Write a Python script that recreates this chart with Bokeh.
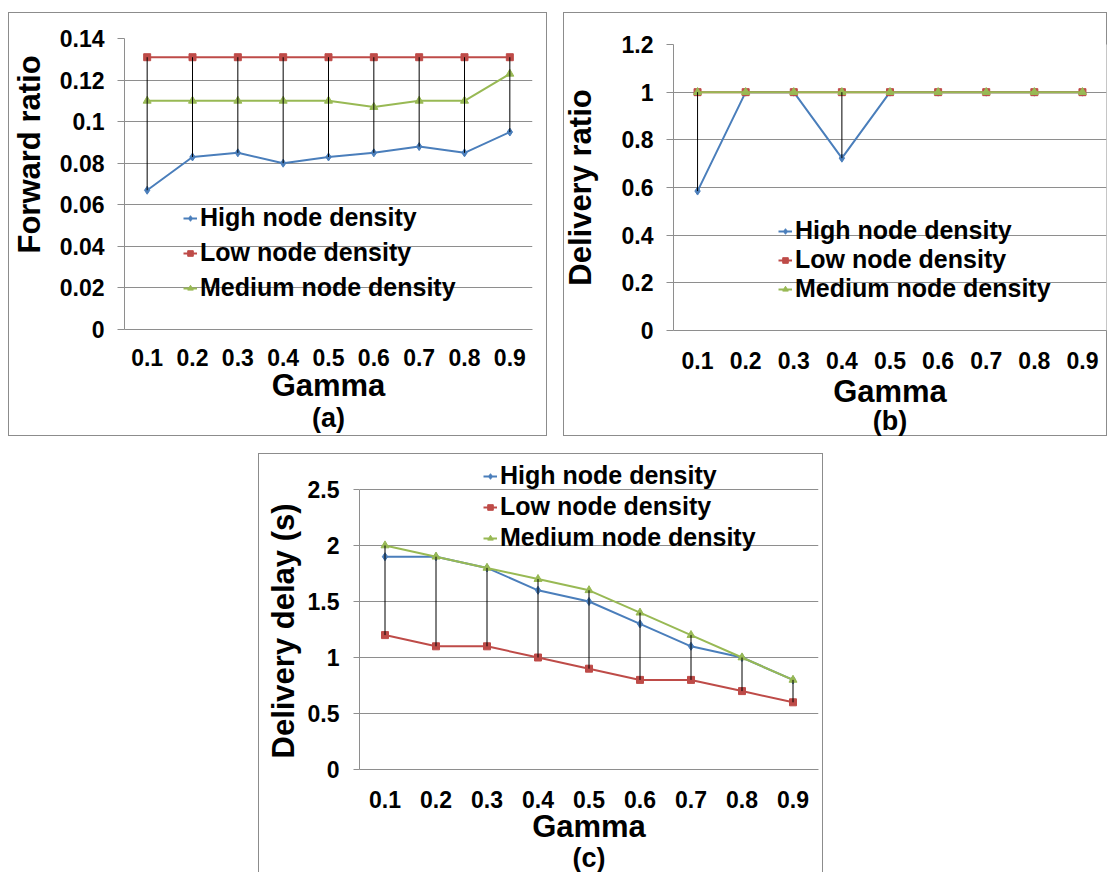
from bokeh.plotting import figure
from bokeh.models import (FactorRange, Range1d, FixedTicker, NumeralTickFormatter,
                          Legend, LegendItem, Title, Spacer, InlineStyleSheet)
from bokeh.layouts import column, row
from bokeh.embed import file_html
from bokeh.resources import INLINE

# ---------------- data ----------------
gamma = ["0.1", "0.2", "0.3", "0.4", "0.5", "0.6", "0.7", "0.8", "0.9"]
series_names = ["High node density", "Low node density", "Medium node density"]

# (a) Forward ratio
fwd_high = [0.067, 0.083, 0.085, 0.080, 0.083, 0.085, 0.088, 0.085, 0.095]
fwd_low = [0.131, 0.131, 0.131, 0.131, 0.131, 0.131, 0.131, 0.131, 0.131]
fwd_medium = [0.110, 0.110, 0.110, 0.110, 0.110, 0.107, 0.110, 0.110, 0.123]
fwd_ticks = [0, 0.02, 0.04, 0.06, 0.08, 0.1, 0.12, 0.14]

# (b) Delivery ratio
dr_high = [0.585, 1.0, 1.0, 0.723, 1.0, 1.0, 1.0, 1.0, 1.0]
dr_low = [1.0, 1.0, 1.0, 1.0, 1.0, 1.0, 1.0, 1.0, 1.0]
dr_medium = [1.0, 1.0, 1.0, 1.0, 1.0, 1.0, 1.0, 1.0, 1.0]
dr_ticks = [0, 0.2, 0.4, 0.6, 0.8, 1.0, 1.2]

# (c) Delivery delay (s)
dd_high = [1.9, 1.9, 1.8, 1.6, 1.5, 1.3, 1.1, 1.0, 0.8]
dd_low = [1.2, 1.1, 1.1, 1.0, 0.9, 0.8, 0.8, 0.7, 0.6]
dd_medium = [2.0, 1.9, 1.8, 1.7, 1.6, 1.4, 1.2, 1.0, 0.8]
dd_ticks = [0, 0.5, 1.0, 1.5, 2.0, 2.5]

# ---------------- style ----------------
FONT = "Liberation Sans"
BLUE = "#4a7ebb"
RED = "#be4b48"
GREEN = "#98b954"
GRID = "#8e8e8e"
BOX = "#8c8c8c"
colors = [BLUE, RED, GREEN]
markers = ["diamond", "square", "triangle"]
msizes = [8, 7, 8]

outline_css = InlineStyleSheet(css=":host { outline: 1px solid %s; }" % BOX)


def inset_css(left_gap):
    # panel box drawn `left_gap` px inside the left edge of the figure
    return InlineStyleSheet(css=(
        ":host { box-shadow: inset %dpx 0 0 0 #ffffff, inset %dpx 0 0 0 %s, "
        "inset 0 1px 0 0 %s, inset -1px 0 0 0 %s, inset 0 -1px 0 0 %s; }"
    ) % (left_gap, left_gap + 1, BOX, BOX, BOX, BOX))


def make_panel(width, height, borders, ymax, yshow, ticks, fmt, data, ytitle,
               letter, legend_xy, legend_spacing, tick_out, xlab_standoff,
               gamma_standoff, letter_standoff, ylab_standoff=10,
               ytitle_as_title=False, ytitle_offset=0, css=None):
    bl, br, bt, bb = borders
    p = figure(width=width, height=height, x_range=FactorRange(*gamma),
               y_range=Range1d(0, ymax), output_backend="svg",
               toolbar_location=None, min_border_left=bl, min_border_right=br,
               min_border_top=bt, min_border_bottom=bb, frame_align=False)
    if css is None:
        p.stylesheets = [outline_css]
        p.border_fill_color = "white"
    else:
        p.stylesheets = [css]
        p.border_fill_color = None
    p.outline_line_color = None
    p.background_fill_color = "white"

    # axes
    yax = p.yaxis[0]
    yax.ticker = FixedTicker(ticks=ticks)
    yax.formatter = NumeralTickFormatter(format=fmt)
    yax.bounds = (0, yshow)
    yax.axis_line_color = GRID
    yax.major_tick_line_color = GRID
    yax.major_tick_out = tick_out
    yax.major_tick_in = 0
    yax.minor_tick_line_color = None
    yax.major_label_standoff = 20 - tick_out
    yax.major_label_text_font = FONT
    yax.major_label_text_font_style = "bold"
    yax.major_label_text_font_size = "23px"
    yax.major_label_text_color = "black"

    xax = p.xaxis[0]
    xax.axis_line_color = GRID
    xax.major_tick_line_color = None
    xax.major_tick_out = 0
    xax.major_tick_in = 0
    xax.minor_tick_line_color = None
    xax.major_label_standoff = xlab_standoff
    xax.major_label_text_font = FONT
    xax.major_label_text_font_style = "bold"
    xax.major_label_text_font_size = "23px"
    xax.major_label_text_color = "black"
    xax.axis_label = "Gamma"
    xax.axis_label_text_font = FONT
    xax.axis_label_text_font_style = "bold"
    xax.axis_label_text_font_size = "31px"
    xax.axis_label_text_color = "black"
    xax.axis_label_standoff = gamma_standoff

    if ytitle_as_title:
        t = Title(text=ytitle, align="left", offset=ytitle_offset,
                  text_font=FONT, text_font_style="bold",
                  text_font_size="31px", text_color="black",
                  standoff=ylab_standoff)
        p.add_layout(t, "left")
    else:
        yax.axis_label = ytitle
        yax.axis_label_text_font = FONT
        yax.axis_label_text_font_style = "bold"
        yax.axis_label_text_font_size = "31px"
        yax.axis_label_text_color = "black"
        yax.axis_label_standoff = ylab_standoff

    p.xgrid.grid_line_color = None
    p.ygrid.grid_line_color = GRID
    p.ygrid.ticker = FixedTicker(ticks=ticks)

    letter_title = Title(text=letter, align="center", vertical_align="top",
                         text_font=FONT, text_font_style="bold",
                         text_font_size="27px", text_color="black",
                         standoff=letter_standoff)
    p.add_layout(letter_title, "below")

    items = []
    for name, ys, c, m, s in zip(series_names, data, colors, markers, msizes):
        ln = p.line(gamma, ys, line_color=c, line_width=2)
        sc = p.scatter(gamma, ys, marker=m, size=s, fill_color=c, line_color=c)
        items.append(LegendItem(label=name, renderers=[ln, sc]))

    lo = [min(v) for v in zip(*data)]
    hi = [max(v) for v in zip(*data)]
    p.segment(x0=gamma, y0=lo, x1=gamma, y1=hi, line_color="black", line_width=1)

    leg = Legend(items=items, location=legend_xy, orientation="vertical",
                 padding=0, margin=0, spacing=legend_spacing,
                 glyph_width=14, glyph_height=28, label_height=28,
                 label_standoff=3, background_fill_alpha=0,
                 border_line_alpha=0, label_text_font=FONT,
                 label_text_font_style="bold", label_text_font_size="25px",
                 label_text_color="black")
    p.add_layout(leg, "center")
    return p


pa = make_panel(547, 424, (124, 15, 26, 107), 0.14, 0.14, fwd_ticks, "0.[00]",
                [fwd_high, fwd_low, fwd_medium], "Forward ratio", "(a)",
                (59, 27), 6, tick_out=7, xlab_standoff=19, gamma_standoff=-1,
                letter_standoff=-6, ylab_standoff=19,
                ytitle_as_title=True, ytitle_offset=76, css=inset_css(8))
pb = make_panel(549, 424, (115, 1, 32, 106), 1.2, 1.2, dr_ticks, "0.[0]",
                [dr_high, dr_low, dr_medium], "Delivery ratio", "(b)",
                (105, 27), 0, tick_out=7, xlab_standoff=21, gamma_standoff=2,
                letter_standoff=-12, ylab_standoff=21, css=inset_css(5))
# panel (c): the frame reaches to the top of the box so the legend above
# the 2.5 gridline is not clipped; the axis itself stops at 2.5
c_frame_h = 872 - 454 - 1 - 103
pc = make_panel(563, 418, (100, 4, 1, 103), 2.5 * c_frame_h / 280, 2.5,
                dd_ticks, "0.[0]",
                [dd_high, dd_low, dd_medium], "Delivery delay (s)", "(c)",
                (124, 217), 2, tick_out=6, xlab_standoff=21, gamma_standoff=-2,
                letter_standoff=-8, ylab_standoff=7,
                ytitle_as_title=True, ytitle_offset=11)

layout = column(Spacer(height=12),
                row(pa, Spacer(width=11), pb),
                Spacer(height=18),
                row(Spacer(width=259), pc))

open("out.html", "w").write(file_html(layout, INLINE))
